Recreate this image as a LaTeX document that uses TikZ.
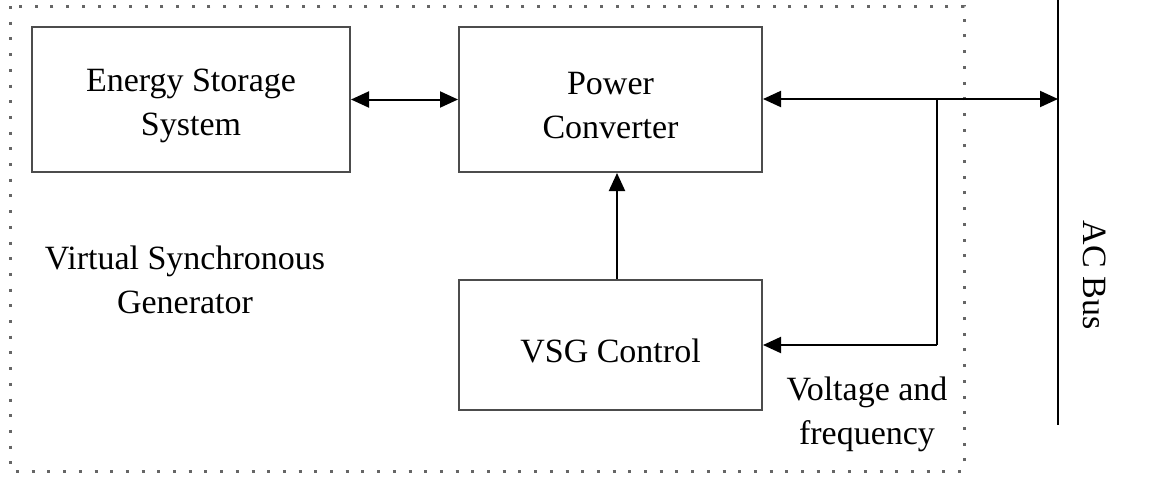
\documentclass[tikz,border=0pt]{standalone}
\usepackage{fontspec}
\setmainfont{Liberation Serif}
\usetikzlibrary{arrows.meta}
\begin{document}
\begin{tikzpicture}[x=1pt,y=-1pt,
  blk/.style={draw=black!70,line width=2pt,inner sep=0pt},
  lbl/.style={align=center,inner sep=0pt,font=\fontsize{34}{44}\selectfont},
  conn/.style={line width=2pt,-{Triangle[length=18pt,width=16pt]}},
  bconn/.style={line width=2pt,{Triangle[length=18pt,width=16pt]}-{Triangle[length=18pt,width=16pt]}},
  frame/.style={draw=black!60,line width=3pt,dash pattern=on 3pt off 12.7pt}]
\useasboundingbox (0,0) rectangle (1172,477);
\draw[frame] (10,6) rectangle (964,471);
\node[blk,minimum width=318pt,minimum height=145pt,
  label={[lbl,yshift=-6pt]center:Energy Storage\\System}] (ess) at (191,99.5) {};
\node[blk,minimum width=303pt,minimum height=145pt,
  label={[lbl,yshift=-6pt]center:Power\\Converter}] (pc) at (610.5,99.5) {};
\node[blk,minimum width=303pt,minimum height=130pt,
  label={[lbl,yshift=-6pt]center:VSG Control}] (vsg) at (610.5,345) {};
\coordinate (bt) at (1058,0);
\coordinate (bb) at (1058,425);
\draw[line width=2pt] (bt) -- (bb);
\coordinate (busin) at (1058,99);
\coordinate (tap) at (937,99);
\coordinate (tapb) at (937,345);
\draw[bconn] (ess.east) -- (pc.west);
\draw[bconn] (pc.east |- busin) -- (busin);
\draw[line width=2pt] (tap) -- (tapb);
\draw[conn] (tapb) -- (vsg.east |- tapb);
\draw[conn] (vsg.north -| 617,0) -- (pc.south -| 617,0);
\node[lbl] (vsgl) at (185,280) {Virtual Synchronous\\Generator};
\node[lbl] (vf) at (867,414) {Voltage and\\frequency};
\node[lbl,rotate=-90] (ac) at (1095,275) {AC Bus};
\end{tikzpicture}
\end{document}
